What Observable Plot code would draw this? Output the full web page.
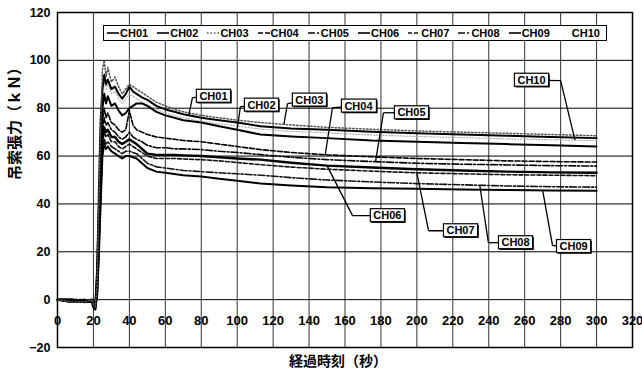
<!DOCTYPE html>
<html><head><meta charset="utf-8">
<script src="https://cdn.jsdelivr.net/npm/d3@7"></script>
<script src="https://cdn.jsdelivr.net/npm/@observablehq/plot@0.6"></script>
<style>
body{margin:0;background:#fff;}
#wrap{position:relative;width:642px;height:375px;overflow:hidden;}
#legend{position:absolute;left:103px;top:25px;width:502px;height:14px;border:1.3px solid #000;background:#fff;display:flex;align-items:center;font:bold 11px "Liberation Sans Narrow","Liberation Sans",sans-serif;color:#000;}
.item{flex:1;display:flex;align-items:center;padding-left:3px;white-space:nowrap;}
.item svg{margin-right:1px;}
</style></head><body><div id="wrap"></div>
<script>
// ---- data ----
const channels = ["CH01","CH02","CH03","CH04","CH05","CH06","CH07","CH08","CH09","CH10"];
const T = [0, 8, 15, 19, 20, 21, 22, 23, 24, 25, 26, 27, 28, 30, 32, 34, 36, 38, 40, 42, 44, 47, 50, 55, 60, 65, 70, 80, 90, 100, 113, 130, 150, 175, 200, 225, 250, 275, 300];
const CH01 = [0, 0, -1, -1, -3, -2, 10, 45, 75, 88, 94, 90, 92, 88, 89, 86, 84, 86, 89, 87, 86, 84.5, 83.5, 81, 79.5, 78.5, 77.5, 76, 75, 74, 72.5, 71.5, 71, 70.2, 69.5, 69, 68.5, 68, 67.5];
const CH02 = [0, -1, 0, -1, -2, -4, 12, 35, 60, 80, 86, 82, 85, 81, 82, 79, 77, 78, 80, 81, 82, 82, 81, 78.5, 77, 76, 75, 74, 72.5, 71, 69, 68.2, 67.5, 66.5, 66, 65.5, 65, 64.5, 64];
const CH03 = [0, -1, -1, 0, -2, -3, 6, 40, 72, 96, 100, 93, 97, 91, 93, 89, 86, 88, 90, 89, 88, 86.5, 85, 82.5, 81, 79.5, 78.5, 77, 76, 75, 74, 73, 72, 71.2, 70.5, 70, 69.5, 69, 68.5];
const CH04 = [0, 0, -1, 0, -1, -3, 5, 30, 55, 75, 80, 76, 78, 74, 73, 71, 70, 71, 79, 73, 71, 70, 69, 68, 67.5, 67, 66.5, 66, 65, 64, 62.7, 61.5, 60.5, 59.7, 59, 58.5, 58, 57.7, 57.5];
const CH05 = [0, -1, 0, -1, -2, -2, 4, 28, 50, 70, 76, 73, 74, 71, 70, 68, 67, 68, 70, 68, 67, 66, 64.5, 63.5, 63.5, 63, 63, 62.7, 62, 61.5, 60.6, 59.5, 58.5, 57.7, 57, 56.6, 56.3, 56, 55.8];
const CH06 = [0, 0, -1, 0, -3, -4, 3, 25, 48, 68, 72, 70, 71, 68, 68, 66, 65, 66, 67, 66, 65, 63, 61, 60.5, 60.5, 60.5, 60.3, 60, 59.5, 59, 58.5, 57.2, 56, 55.2, 54.5, 54, 53.5, 53.2, 53];
const CH07 = [0, -1, -1, -1, -2, -3, 2, 22, 45, 65, 70, 68, 69, 66, 66, 64, 63, 64, 65, 64, 63, 61.5, 60, 59, 59, 59, 58.8, 58.5, 58, 57.3, 56.4, 55.4, 54.5, 53.7, 53, 52.6, 52.2, 52, 51.8];
const CH08 = [0, 0, 0, -1, -2, -3, 2, 20, 42, 62, 67, 65, 66, 64, 63, 62, 61, 62, 62, 61.5, 61, 59, 57, 55.5, 55, 54.5, 54, 53.5, 53, 52.6, 52, 51, 50, 49.2, 48.5, 48, 47.5, 47.2, 47];
const CH09 = [0, -1, -1, 0, -1, -3, 1, 18, 40, 60, 65, 63, 64, 62, 61, 60, 59, 60, 60, 59.5, 59, 57, 55, 53.5, 53, 52.5, 52, 51.5, 50.5, 49.7, 48.5, 47.7, 47, 46.6, 46.3, 46, 45.8, 45.6, 45.5];
const CH10 = [0, 0, 0, 0, -2, -4, 8, 38, 66, 86, 91, 88, 90, 86, 87, 84, 82, 84, 86, 85, 84, 82.5, 81.5, 79.5, 78, 77, 76, 74.5, 73.5, 72.5, 71.3, 70.3, 69.7, 68.8, 68.2, 67.7, 67.2, 66.8, 66.5];
const xTicks = [0, 20, 40, 60, 80, 100, 120, 140, 160, 180, 200, 220, 240, 260, 280, 300, 320];
const yTicks = [-20, 0, 20, 40, 60, 80, 100, 120];
const xTitle = "経過時刻（秒）";
const yTitle = "吊索張力（ｋＮ）";
// callout annotations (data units)
const calloutLabels = ["CH01","CH02","CH03","CH04","CH05","CH10","CH06","CH07","CH08","CH09"];
const calloutBoxT = [86.8, 113.5, 140.2, 167.5, 197, 263.8, 183.6, 224.3, 254.9, 287.2];
const calloutBoxV = [85.0, 81.3, 83.4, 80.9, 78.1, 91.7, 35.1, 28.8, 23.8, 22.2];
const calloutElbowT = [75.1, 101.8, 128, 153, 181.4, 280, 164.2, 206.5, 239.8, 275.5];
const calloutElbowV = [84.4, 80.7, 81.9, 80.2, 78.1, 91.5, 35.1, 28.8, 23.8, 22.6];
const calloutTargetT = [73, 100, 126, 149, 177, 288, 150, 200, 235, 270];

// ---- styles ----
const seriesValues = {CH01, CH02, CH03, CH04, CH05, CH06, CH07, CH08, CH09, CH10};
const styles = {
  CH01:{stroke:"#000", w:2},
  CH02:{stroke:"#000", w:2},
  CH03:{stroke:"#555", w:1.5, dash:"1.5,2"},
  CH04:{stroke:"#000", w:1.6, dash:"5,2"},
  CH05:{stroke:"#000", w:1.6, dash:"7,2,2,2"},
  CH06:{stroke:"#000", w:2.4},
  CH07:{stroke:"#111", w:1.6, dash:"4,2"},
  CH08:{stroke:"#111", w:1.6, dash:"7,2,2,2"},
  CH09:{stroke:"#000", w:2},
  CH10:{stroke:"#aaa", w:1.2, dash:"1,2"}
};
const drawOrder = ["CH10","CH09","CH08","CH07","CH06","CH05","CH04","CH02","CH01","CH03"];

function valueAt(ch, t) {
  const v = seriesValues[ch];
  for (let j = 0; j < T.length - 1; j++) {
    if (t >= T[j] && t <= T[j+1]) {
      const f = (t - T[j]) / (T[j+1] - T[j]);
      return v[j] + f * (v[j+1] - v[j]);
    }
  }
  return v[v.length - 1];
}

const callouts = calloutLabels.map((label, i) => ({
  label, bx: calloutBoxT[i], by: calloutBoxV[i], ex: calloutElbowT[i], ey: calloutElbowV[i],
  tx: calloutTargetT[i], ty: valueAt(label, calloutTargetT[i])
}));

const lineMarks = drawOrder.map(ch => {
  const s = styles[ch];
  const rows = T.map((t, j) => ({t, v: seriesValues[ch][j]}));
  return Plot.line(rows, {x: "t", y: "v", stroke: s.stroke, strokeWidth: s.w, strokeDasharray: s.dash, strokeLinejoin: "round"});
});

const font = '"Liberation Sans", Arial, sans-serif';
const cjk = '"Noto Sans CJK JP", sans-serif';

const svg = Plot.plot({
  width: 642, height: 375,
  marginLeft: 57, marginRight: 10, marginTop: 12, marginBottom: 28,
  style: {fontFamily: font, fontSize: "12.5px", fontWeight: "bold", background: "#fff", color: "#000", overflow: "visible"},
  x: {domain: [0, 320], axis: null},
  y: {domain: [-20, 120], ticks: yTicks, tickSize: 0, tickPadding: 7, label: null},
  marks: [
    Plot.gridX(xTicks, {stroke: "#333", strokeOpacity: 1, strokeWidth: 1}),
    Plot.gridY(yTicks, {stroke: "#000", strokeOpacity: 1, strokeWidth: 1}),
    ...lineMarks,
    Plot.frame({stroke: "#000", strokeWidth: 1.5}),
    Plot.text(xTicks, {x: d => d, y: -8.8, text: d => String(d), fontSize: 13, fontWeight: "bold", fontFamily: font}),
    Plot.text([yTitle], {frameAnchor: "left", dx: -42, rotate: -90, text: d => d, fontSize: 15, fontWeight: "bold", fontFamily: cjk, style: "letter-spacing:2px"}),
    Plot.text([xTitle], {frameAnchor: "bottom", dy: 18, dx: -7, text: d => d, fontSize: 14, fontWeight: "bold", fontFamily: cjk}),
    Plot.link(callouts, {x1: "bx", y1: "by", x2: "ex", y2: "ey", stroke: "#000", strokeWidth: 1.3}),
    Plot.link(callouts, {x1: "ex", y1: "ey", x2: "tx", y2: "ty", stroke: "#000", strokeWidth: 1.3}),
    Plot.text(callouts, {x: "bx", y: "by", text: "label", fontSize: 11, fontWeight: "bold", fontFamily: '"Liberation Sans Narrow", "Liberation Sans", sans-serif', fill: "#000"})
  ]
});

const wrap = document.getElementById("wrap");
wrap.appendChild(svg);

// boxes behind callout labels
const ns = "http://www.w3.org/2000/svg";
Array.from(svg.querySelectorAll("text")).filter(t => /^CH\d\d$/.test(t.textContent.trim())).forEach(t => {
  const b = t.getBBox();
  const tr = t.getAttribute("transform");
  const mk = (dx, fill, stroke) => {
    const r = document.createElementNS(ns, "rect");
    r.setAttribute("x", b.x - 3 + dx); r.setAttribute("y", b.y - 0.5 + dx);
    r.setAttribute("width", b.width + 6); r.setAttribute("height", b.height + 1);
    r.setAttribute("fill", fill);
    if (stroke) { r.setAttribute("stroke", stroke); r.setAttribute("stroke-width", "1.2"); }
    if (tr) r.setAttribute("transform", tr);
    return r;
  };
  t.parentNode.insertBefore(mk(1.2, "#000"), t);
  t.parentNode.insertBefore(mk(0, "#fff", "#000"), t);
});

// legend
const legend = document.createElement("div");
legend.id = "legend";
channels.forEach(ch => {
  const s = styles[ch];
  const item = document.createElement("div");
  item.className = "item";
  item.innerHTML = `<svg width="12" height="6"><line x1="0" x2="12" y1="3" y2="3" stroke="${ch === "CH10" ? "#ddd" : s.stroke}" stroke-width="${Math.min(s.w, 1.6)}" ${s.dash ? `stroke-dasharray="${s.dash}"` : ""}/></svg><span>${ch}</span>`;
  legend.appendChild(item);
});
wrap.appendChild(legend);
</script></body></html>
